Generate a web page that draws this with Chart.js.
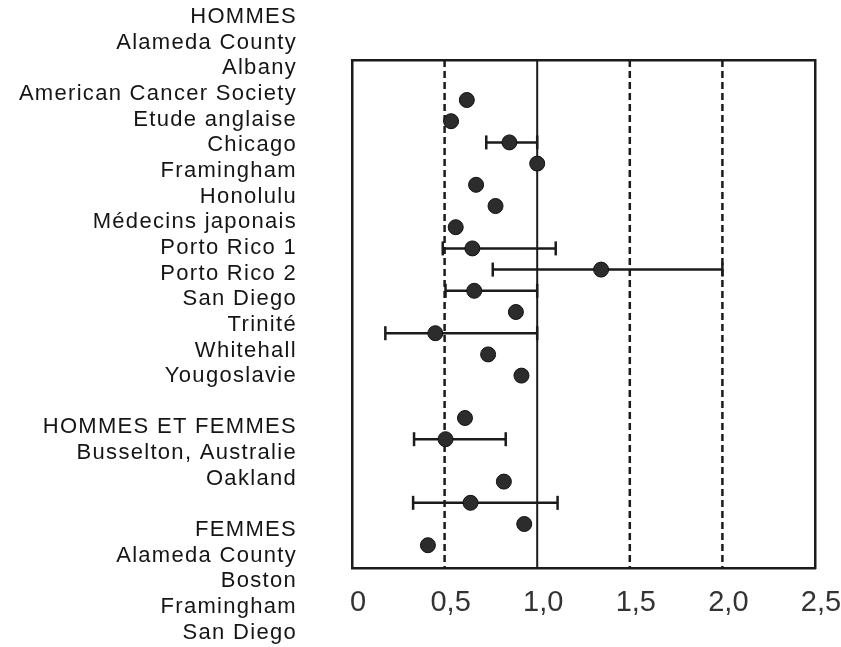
<!DOCTYPE html>
<html>
<head>
<meta charset="utf-8">
<script src="https://cdn.jsdelivr.net/npm/chart.js@4/dist/chart.umd.min.js"></script>
<style>
  html, body { margin: 0; padding: 0; background: #fff; }
  #wrap { width: 841px; height: 647px; }
</style>
</head>
<body>
<div id="wrap"><canvas id="c" width="841" height="647"></canvas></div>
<script>
// left-hand study list (one entry per text row, '' = blank row)
const rowLabels = [
  'HOMMES', 'Alameda County', 'Albany', 'American Cancer Society', 'Etude anglaise',
  'Chicago', 'Framingham', 'Honolulu', 'Médecins japonais', 'Porto Rico 1',
  'Porto Rico 2', 'San Diego', 'Trinité', 'Whitehall', 'Yougoslavie', '',
  'HOMMES ET FEMMES', 'Busselton, Australie', 'Oakland', '',
  'FEMMES', 'Alameda County', 'Boston', 'Framingham', 'San Diego'
];

// rows of the dots in the plot (dots are printed on their own grid)
const pointRows = [0, 1, 2, 3, 4, 5, 6, 7, 8, 9, 10, 11, 12, 13, 15, 16, 18, 19, 20, 21];
const estimates = [0.62, 0.535, 0.85, 1.0, 0.67, 0.775, 0.56, 0.65, 1.345, 0.66,
                   0.885, 0.45, 0.735, 0.915, 0.61, 0.505, 0.82, 0.64, 0.93, 0.41];
const lower = [null, null, 0.725, null, null, null, null, 0.49, 0.76, 0.505,
               null, 0.18, null, null, null, 0.335, null, 0.33, null, null];
const upper = [null, null, 1.0, null, null, null, null, 1.10, 2.0, 1.0,
               null, 1.0, null, null, null, 0.83, null, 1.11, null, null];

const xTickLabels = ['0', '0,5', '1,0', '1,5', '2,0', '2,5'];
const refLines = [0.5, 1.0, 1.5, 2.0];
const refDashed = [true, false, true, true];

const INK = '#1b1b1b';
const Y_MIN = -1.887, Y_MAX = 22.075;

const datasets = [];

datasets.push({
  type: 'scatter',
  order: 0,
  data: estimates.map((v, i) => ({ x: v, y: pointRows[i] })),
  pointRadius: 7.5,
  pointBackgroundColor: '#2c2c2c',
  pointBorderColor: '#111',
  pointBorderWidth: 1
});

estimates.forEach((v, i) => {
  if (lower[i] == null) return;
  datasets.push({
    type: 'line',
    order: 1,
    data: [{ x: lower[i], y: pointRows[i] }, { x: upper[i], y: pointRows[i] }],
    borderColor: INK,
    borderWidth: 2.5,
    pointStyle: 'line',
    rotation: 90,
    pointRadius: 7,
    pointBorderColor: INK,
    pointBorderWidth: 2.5
  });
});

refLines.forEach((v, i) => {
  datasets.push({
    type: 'line',
    order: 2,
    data: [{ x: v, y: Y_MIN }, { x: v, y: Y_MAX }],
    borderColor: INK,
    borderWidth: refDashed[i] ? 2.5 : 2,
    borderDash: refDashed[i] ? [7, 4] : [],
    pointRadius: 0
  });
});

const rowLabelPlugin = {
  id: 'rowLabels',
  afterDraw(chart) {
    const ctx = chart.ctx;
    const s = chart.scales.yLab;
    ctx.save();
    ctx.font = '22px "Liberation Sans", Arial, sans-serif';
    ctx.letterSpacing = '1.3px';
    ctx.fillStyle = '#151515';
    ctx.textAlign = 'right';
    ctx.textBaseline = 'middle';
    rowLabels.forEach((t, i) => {
      if (t) ctx.fillText(t, 297, s.getPixelForValue(i));
    });
    ctx.restore();
  }
};

const boxAxis = (pos, extra) => Object.assign({
  type: 'linear',
  position: pos,
  display: true,
  ticks: { display: false },
  grid: { display: false },
  border: { display: true, color: INK, width: 2.5 }
}, extra);

new Chart(document.getElementById('c'), {
  type: 'scatter',
  data: { datasets },
  plugins: [rowLabelPlugin],
  options: {
    responsive: false,
    animation: false,
    events: [],
    layout: { padding: { left: 352, right: 26, top: 60, bottom: 0 } },
    plugins: { legend: { display: false }, tooltip: { enabled: false } },
    scales: {
      x: {
        type: 'linear',
        position: 'bottom',
        min: 0, max: 2.5,
        grid: { display: false },
        border: { display: true, color: INK, width: 2.5 },
        afterFit: s => { s.height = 79; s.paddingLeft = 0; s.paddingRight = 0; },
        ticks: {
          stepSize: 0.5,
          padding: 10,
          labelOffset: 6,
          color: '#333',
          font: { family: '"Liberation Sans Narrow", "Liberation Sans", Arial, sans-serif', size: 29 },
          callback: (v, i) => xTickLabels[i]
        }
      },
      y: boxAxis('left', { min: Y_MIN, max: Y_MAX, reverse: true, afterFit: s => { s.width = 0; } }),
      xTop: boxAxis('top', { min: 0, max: 2.5, afterFit: s => { s.height = 0; } }),
      yRight: boxAxis('right', { min: 0, max: 1, afterFit: s => { s.width = 0; } }),
      yLab: { type: 'linear', display: false, min: 1.676, max: 21.48, reverse: true }
    }
  }
});
</script>
</body>
</html>
